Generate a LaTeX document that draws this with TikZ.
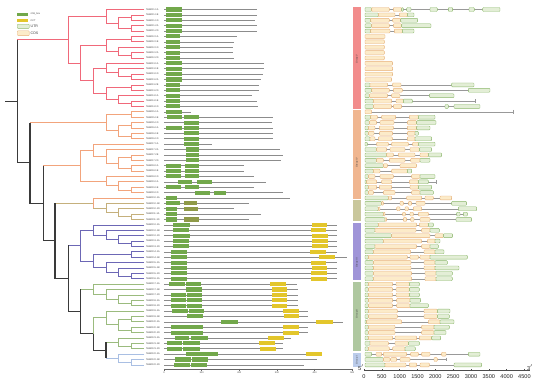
\documentclass[tikz,border=0pt]{standalone}
\usepackage{fontspec}
\setmainfont{Liberation Sans}
\definecolor{cR}{HTML}{F0697A}
\definecolor{cO}{HTML}{F2A47C}
\definecolor{cT}{HTML}{C5B07C}
\definecolor{cP}{HTML}{6C67B5}
\definecolor{cG}{HTML}{9BBB7E}
\definecolor{cB}{HTML}{A9BFE3}
\definecolor{cK}{HTML}{3A3A3A}
\definecolor{bR}{HTML}{F28C8C}
\definecolor{bO}{HTML}{F0B690}
\definecolor{bT}{HTML}{C9C79C}
\definecolor{bP}{HTML}{A095D8}
\definecolor{bG}{HTML}{AFC8A0}
\definecolor{bB}{HTML}{BBCCEB}
\definecolor{dG}{HTML}{72A84B}
\definecolor{dY}{HTML}{E3C62B}
\definecolor{dO}{HTML}{8F9A48}
\definecolor{uF}{HTML}{E3EED6}
\definecolor{uD}{HTML}{8CB86B}
\definecolor{kF}{HTML}{FCEBC9}
\definecolor{kD}{HTML}{E8B27A}
\tikzset{
  tR/.style={cR,line width=0.75pt},
  tO/.style={cO,line width=0.75pt},
  tT/.style={cT,line width=0.75pt},
  tP/.style={cP,line width=0.75pt},
  tG/.style={cG,line width=0.75pt},
  tB/.style={cB,line width=0.75pt},
  tK/.style={cK,line width=1.1pt},
  lbl/.style={anchor=west,inner sep=0pt,text=black!70,font=\fontsize{2.4}{2.8}\selectfont},
  dline/.style={black!45,line width=0.55pt},
  bxg/.style={fill=dG},
  bxy/.style={fill=dY},
  bxo/.style={fill=dO},
  gline/.style={black!40,line width=0.45pt},
  gu/.style={fill=uF,draw=uD,line width=0.35pt,rounded corners=0.8pt},
  gc/.style={fill=kF,draw=kD,line width=0.35pt,rounded corners=0.8pt},
  grp/.style={rotate=90,inner sep=0pt,text=black!75,font=\fontsize{2.4}{2.8}\selectfont},
  axl/.style={inner sep=0pt,text=black!75,font=\fontsize{2.4}{2.8}\selectfont},
  gxl/.style={inner sep=0pt,text=black!85,font=\fontsize{5.6}{6.5}\selectfont},
}
\newcommand\br[6]{\draw[#1] (#4,#3) -- (#2,#3) -- (#2,#5) -- (#6,#5);}
\newcommand\dm[3]{\draw[dline] (72,#1) -- (#2,#1);
  \foreach \t/\a/\b in {#3} {\fill[\t] (\a,#1-0.38) rectangle (\b,#1+0.38);}}
\newcommand\gn[3]{\draw[gline] (45,#1) -- (#2,#1);
  \foreach \t/\a/\b in {#3} {\filldraw[\t] (\a,#1-0.36) rectangle (\b,#1+0.36);}}
\begin{document}
\begin{tikzpicture}[x=1pt,y=-1pt]
\useasboundingbox (0,0) rectangle (550,385);
\fill[white] (0,0) rectangle (550,385);

% legend
\fill[dG] (17.3,12.7) rectangle (28.3,15.9);
\node[axl,anchor=west] (lg1) at (30.5,14.3) {zf-B\_box};
\fill[dY] (17.3,19.2) rectangle (28.3,21.8);
\node[axl,anchor=west] (lg2) at (30.5,20.5) {CCT};
\filldraw[gu] (17.3,24.2) rectangle (29.3,28.4);
\node[axl,anchor=west,font=\fontsize{3.6}{4}\selectfont] (lg3) at (30.5,26.3) {UTR};
\filldraw[gc] (17.3,30.8) rectangle (29.3,35.6);
\node[axl,anchor=west,font=\fontsize{3.6}{4}\selectfont] (lg4) at (30.5,33.2) {CDS};

% ---------------- tree ----------------
\begin{scope}[x=1pt,y=-5.385pt,shift={(0pt,-9.5pt)}]
% red
\br{tR}{131.7}{1}{144}{2}{144}
\br{tR}{131.7}{3}{144}{4}{144}
\br{tR}{118.3}{1.5}{131.7}{3.5}{131.7}
\br{tR}{106}{0}{144}{2.5}{118.3}
\br{tR}{131.7}{5}{144}{6}{144}
\br{tR}{131.7}{8}{144}{9}{144}
\br{tR}{118.3}{7}{144}{8.5}{131.7}
\br{tR}{106}{5.5}{131.7}{7.75}{118.3}
\br{tR}{131.7}{12}{144}{13}{144}
\br{tR}{118.3}{11}{144}{12.5}{131.7}
\br{tR}{106}{10}{144}{11.75}{118.3}
\br{tR}{131.7}{14}{144}{15}{144}
\br{tR}{131.7}{17}{144}{18}{144}
\br{tR}{118.3}{16}{144}{17.5}{131.7}
\br{tR}{106}{14.5}{131.7}{16.75}{118.3}
\br{tR}{93.3}{10.875}{106}{15.625}{106}
\br{tR}{80.7}{6.625}{106}{13.25}{93.3}
\br{tR}{68.3}{1.25}{106}{9.9375}{80.7}
% orange
\br{tO}{131.7}{19}{144}{20}{144}
\br{tO}{131.7}{21}{144}{22}{144}
\br{tO}{131.7}{23}{144}{24}{144}
\br{tO}{118.3}{21.5}{131.7}{23.5}{131.7}
\br{tO}{106}{19.5}{131.7}{22.5}{118.3}
\br{tO}{131.7}{27}{144}{28}{144}
\br{tO}{131.7}{29}{144}{30}{144}
\br{tO}{118.3}{27.5}{131.7}{29.5}{131.7}
\br{tO}{106}{26}{144}{28.5}{118.3}
\br{tO}{93.3}{25}{144}{27.25}{106}
\br{tO}{131.7}{33}{144}{34}{144}
\br{tO}{118.3}{32}{144}{33.5}{131.7}
\br{tO}{106}{31}{144}{32.75}{118.3}
\br{tO}{80.7}{26.125}{93.3}{31.875}{106}
% tan
\br{tT}{131.7}{38}{144}{39}{144}
\br{tT}{118.3}{37}{144}{38.5}{131.7}
\br{tT}{106}{36}{144}{37.75}{118.3}
\br{tO}{93.3}{35}{144}{36.875}{93.3}
\draw[tT] (93.3,36.875) -- (106,36.875);
% purple
\br{tP}{131.7}{43}{144}{44}{144}
\br{tP}{118.3}{42}{144}{43.5}{131.7}
\br{tP}{106}{41}{144}{42.75}{118.3}
\br{tP}{93.3}{40}{144}{41.875}{106}
\br{tP}{131.7}{45}{144}{46}{144}
\br{tP}{131.7}{49}{144}{50}{144}
\br{tP}{118.3}{48}{144}{49.5}{131.7}
\br{tP}{106}{47}{144}{48.75}{118.3}
\br{tP}{93.3}{45.5}{131.7}{47.875}{106}
\br{tP}{80.7}{40.9375}{93.3}{46.6875}{93.3}
% green
\br{tG}{131.7}{54}{144}{55}{144}
\br{tG}{118.3}{53}{144}{54.5}{131.7}
\br{tG}{106}{52}{144}{53.75}{118.3}
\br{tG}{93.3}{51}{144}{52.875}{106}
\br{tG}{131.7}{57}{144}{58}{144}
\br{tG}{131.7}{59}{144}{60}{144}
\br{tG}{118.3}{57.5}{131.7}{59.5}{131.7}
\br{tG}{106}{56}{144}{58.5}{118.3}
\br{tG}{131.7}{62}{144}{63}{144}
\br{tG}{118.3}{61}{144}{62.5}{131.7}
% blue
\br{tB}{131.7}{65}{144}{66}{144}
\br{tB}{118.3}{64}{144}{65.5}{131.7}
% backbone
\draw[tG] (106,61.75) -- (118.3,61.75);
\draw[tB] (106,64.75) -- (118.3,64.75);
\draw[tK] (106,61.75) -- (106,64.75);
\draw[tG] (106,57.25) -- (93.3,57.25) -- (93.3,60.25);
\draw[tK] (93.3,60.25) -- (93.3,63.25) -- (106,63.25);
\draw[tG] (80.7,51.9375) -- (93.3,51.9375);
\draw[tK] (80.7,51.9375) -- (80.7,60.25) -- (93.3,60.25);
\draw[tP] (68.3,43.8125) -- (80.7,43.8125);
\draw[tK] (68.3,43.8125) -- (68.3,56.09) -- (80.7,56.09);
\draw[tT] (55,35.9375) -- (93.3,35.9375);
\draw[tK] (55,35.9375) -- (55,49.95) -- (68.3,49.95);
\draw[tO] (43.3,29) -- (80.7,29);
\draw[tK] (43.3,29) -- (43.3,42.94) -- (55,42.94);
\draw[tO] (30,21) -- (106,21);
\draw[tK] (30,21) -- (30,35.97) -- (43.3,35.97);
\draw[tR] (17.3,5.59) -- (68.3,5.59);
\draw[tK] (17.3,5.59) -- (17.3,28.49) -- (30,28.49);
\draw[tK] (5,17.04) -- (17.3,17.04);

% leaf labels
\foreach \nm [count=\i from 0] in {
TaBBX1-1A,TaBBX1-1B,TaBBX1-1D,TaBBX1-2A,TaBBX1-2D,
TaBBX2-1A,TaBBX2-1B,TaBBX2-1D,TaBBX2-2A,TaBBX2-2D,
TaBBX3-1A,TaBBX3-1B,TaBBX3-1D,TaBBX3-2A,TaBBX3-2B,
TaBBX3-2D,TaBBX4-1A,TaBBX4-1B,TaBBX4-1D,
TaBBX5-1A,TaBBX5-1B,TaBBX5-1D,TaBBX6-1A,TaBBX6-1B,TaBBX6-1D,
TaBBX7-1A,TaBBX7-2A,TaBBX7-2B,TaBBX7-2D,TaBBX8-1A,TaBBX8-1B,
TaBBX8-1D,TaBBX9-1A,TaBBX9-1B,TaBBX9-1D,
TaBBX10-1A,TaBBX10-1B,TaBBX10-1D,TaBBX11-1A,TaBBX11-1D,
TaBBX12-1A,TaBBX12-1B,TaBBX12-1D,TaBBX13-1A,TaBBX13-1D,
TaBBX14-1A,TaBBX14-1B,TaBBX15-1A,TaBBX15-1B,TaBBX15-1D,TaBBX16-1A,
TaBBX17-1A,TaBBX17-1B,TaBBX17-1D,TaBBX18-1A,TaBBX18-1D,
TaBBX19-1A,TaBBX19-1B,TaBBX20-1A,TaBBX20-1B,TaBBX20-1D,
TaBBX21-1A,TaBBX21-1B,TaBBX21-1D,
TaBBX22-1A,TaBBX22-1B,TaBBX22-1D}
  {\node[lbl] (lf\i) at (145.8,\i) {\nm};}
\end{scope}

% ---------------- protein domains ----------------
\begin{scope}[x=0.33333pt,y=-5.385pt,shift={(140pt,-9.5pt)}]
\dm{0}{352}{bxg/77/125}
\dm{1}{350}{bxg/77/125}
\dm{2}{345}{bxg/77/125}
\dm{3}{352}{bxg/77/125}
\dm{4}{352}{bxg/77/125}
\dm{5}{290}{bxg/77/120}
\dm{6}{282}{bxg/77/120}
\dm{7}{280}{bxg/77/120}
\dm{8}{280}{bxg/77/120}
\dm{9}{282}{bxg/77/120}
\dm{10}{372}{bxg/77/125}
\dm{11}{372}{bxg/77/125}
\dm{12}{368}{bxg/77/125}
\dm{13}{362}{bxg/77/125}
\dm{14}{358}{bxg/77/120}
\dm{15}{358}{bxg/77/120}
\dm{16}{337}{bxg/77/120}
\dm{17}{350}{bxg/77/120}
\dm{18}{355}{bxg/77/120}
\dm{19}{153}{bxg/77/127}
\dm{20}{400}{bxg/80/127,bxg/133/178}
\dm{21}{395}{bxg/133/178}
\dm{22}{398}{bxg/78/125,bxg/133/178}
\dm{23}{398}{bxg/133/178}
\dm{24}{398}{bxg/133/178}
\dm{25}{215}{bxg/131/176}
\dm{26}{420}{bxg/138/178}
\dm{27}{428}{bxg/138/178}
\dm{28}{422}{bxg/138/178}
\dm{29}{313}{bxg/78/122,bxg/135/178}
\dm{30}{313}{bxg/78/122,bxg/135/178}
\dm{31}{343}{bxg/78/122,bxg/135/178}
\dm{32}{378}{bxg/114/157,bxg/170/215}
\dm{33}{343}{bxg/78/122,bxg/135/178}
\dm{34}{430}{bxg/165/210,bxg/222/258}
\dm{35}{450}{bxg/78/112}
\dm{36}{328}{bxg/78/120,bxo/133/170}
\dm{37}{283}{bxg/78/112,bxo/133/175}
\dm{38}{362}{bxg/78/110}
\dm{39}{328}{bxg/78/112,bxo/133/177}
\dm{40}{590}{bxg/100/150,bxy/515/562}
\dm{41}{590}{bxg/98/148,bxy/512/558}
\dm{42}{590}{bxg/100/150,bxy/515/565}
\dm{43}{590}{bxg/100/148,bxy/517/565}
\dm{44}{590}{bxg/100/148,bxy/515/565}
\dm{45}{590}{bxg/93/140,bxy/510/558}
\dm{46}{622}{bxg/93/140,bxy/538/585}
\dm{47}{592}{bxg/93/140,bxy/512/558}
\dm{48}{592}{bxg/93/140,bxy/515/560}
\dm{49}{592}{bxg/93/140,bxy/513/560}
\dm{50}{592}{bxg/93/140,bxy/513/560}
\dm{51}{472}{bxg/88/135,bxg/137/183,bxy/390/438}
\dm{52}{475}{bxg/138/185,bxy/395/440}
\dm{53}{475}{bxg/92/138,bxg/140/187,bxy/395/440}
\dm{54}{475}{bxg/92/138,bxg/140/187,bxy/395/440}
\dm{55}{475}{bxg/92/138,bxg/140/187,bxy/395/440}
\dm{56}{505}{bxg/97/145,bxg/147/193,bxy/430/477}
\dm{57}{505}{bxg/140/190,bxy/432/478}
\dm{58}{608}{bxg/243/293,bxy/528/578}
\dm{59}{505}{bxg/92/140,bxg/142/190,bxy/430/477}
\dm{60}{505}{bxg/92/140,bxg/142/190,bxy/430/477}
\dm{61}{452}{bxg/105/148,bxg/152/203,bxy/385/432}
\dm{62}{430}{bxg/82/125,bxg/130/180,bxy/358/405}
\dm{63}{430}{bxg/82/125,bxg/130/180,bxy/360/408}
\dm{64}{545}{bxg/137/185,bxg/187/233,bxy/498/545}
\dm{65}{532}{bxg/105/152,bxg/155/203}
\dm{66}{492}{bxg/102/150,bxg/152/200}
\end{scope}

% protein axis
\draw[black!60,line width=0.4pt] (164,369) -- (352.3,369);
\foreach \v [count=\k from 0] in {0,100,200,300,400,500}
  {\draw[black!60,line width=0.4pt] ({164+37.66*\k},369) -- ({164+37.66*\k},370.6);
   \node[axl] (pa\k) at ({164+37.66*\k},372.6) {\v};}

% ---------------- group bars ----------------
\fill[bR] (353,7.3) rectangle (361,108.6);
\fill[bO] (353,110.5) rectangle (361,198.9);
\fill[bT] (353,200.3) rectangle (361,221.3);
\fill[bP] (353,222.9) rectangle (361,280.5);
\fill[bG] (353,282.2) rectangle (361,350.8);
\fill[bB] (353,352.6) rectangle (361,367);
\node[grp] (g5) at (357,59) {Group V};
\node[grp] (g4) at (357,163) {Group IV};
\node[grp] (g3) at (357,263) {Group III};
\node[grp] (g2) at (357,314) {Group II};
\node[grp] (g1) at (357,360) {Group I};

% ---------------- gene structures ----------------
\begin{scope}[x=0.33333pt,y=-5.385pt,shift={(350pt,-9.5pt)}]
\gn{0}{450}{gu/45/65,gc/65/118,gc/130/155,gu/155/160,gu/170/183,gu/240/262,gu/295/308,gu/357/373,gu/398/450}
\gn{1}{192}{gu/45/85,gc/85/135,gc/148/172,gu/172/192}
\gn{2}{203}{gu/45/62,gc/62/118,gc/128/152,gu/152/203}
\gn{3}{243}{gu/45/65,gc/65/118,gc/130/155,gu/155/243}
\gn{4}{192}{gu/45/62,gc/62/120,gc/133/157,gu/157/192}
\gn{5}{105}{gc/45/105}
\gn{6}{103}{gc/45/103}
\gn{7}{103}{gc/45/103}
\gn{8}{103}{gc/45/103}
\gn{9}{103}{gc/45/103}
\gn{10}{128}{gc/45/128}
\gn{11}{128}{gc/45/128}
\gn{12}{128}{gc/45/128}
\gn{13}{125}{gc/45/125}
\gn{14}{372}{gu/45/60,gc/60/113,gc/128/153,gu/305/372}
\gn{15}{420}{gu/45/65,gc/65/118,gc/130/157,gu/355/420}
\gn{16}{312}{gu/45/58,gc/58/113,gc/125/150,gu/238/312}
\gn{17}{377}{gu/45/70,gc/70/125,gc/138/160,gu/160/187}
\gn{18}{390}{gu/45/70,gc/70/125,gc/130/155,gu/285/295,gu/312/390}
\gn{19}{490}{gc/45/65}
\gn{20}{255}{gu/45/62,gc/62/82,gc/95/137,gc/178/205,gu/205/255}
\gn{21}{258}{gu/45/58,gc/58/80,gc/90/132,gc/172/200,gu/200/258}
\gn{22}{240}{gu/45/55,gc/55/75,gc/88/130,gc/172/200,gu/200/240}
\gn{23}{205}{gu/45/55,gc/55/72,gc/88/128,gc/172/195,gu/195/205}
\gn{24}{245}{gu/45/60,gc/60/75,gc/85/127,gc/172/195,gu/195/245}
\gn{25}{255}{gu/45/52,gc/80/115,gc/125/175,gc/188/205,gu/205/255}
\gn{26}{245}{gu/45/80,gc/80/110,gc/120/165,gc/180/208,gu/208/245}
\gn{27}{275}{gu/45/110,gc/110/130,gc/145/195,gc/210/235,gu/235/275}
\gn{28}{240}{gu/45/80,gc/80/100,gc/118/165,gc/182/210,gu/210/240}
\gn{29}{200}{gu/45/100,gc/100/112,gc/150/200}
\gn{30}{185}{gu/45/70,gc/70/90,gc/125/172,gu/172/185}
\gn{31}{255}{gu/45/55,gc/55/75,gc/90/130,gc/185/210,gu/210/255}
\gn{32}{260}{gu/45/50,gc/50/80,gc/95/125,gc/178/205,gu/205/235}
\gn{33}{245}{gu/45/55,gc/55/80,gc/88/125,gc/180/205,gu/205/245}
\gn{34}{250}{gu/45/55,gc/55/70,gc/100/135,gc/185/210,gu/210/250}
\gn{35}{305}{gu/45/115,gc/115/125,gc/170/215,gc/225/250,gc/270/305}
\gn{36}{350}{gu/45/95,gc/95/100,gc/150/160,gc/175/185,gc/198/225,gu/305/350}
\gn{37}{380}{gu/45/85,gc/85/90,gc/140/150,gc/165/175,gc/190/215,gu/325/380}
\gn{38}{352}{gu/45/100,gc/100/105,gc/158/166,gc/180/190,gc/205/235,gu/320/330,gu/340/352}
\gn{39}{365}{gu/45/105,gc/105/110,gc/160/170,gc/182/192,gc/210/240,gu/318/365}
\gn{40}{250}{gu/45/85,gc/85/200,gc/208/235,gu/235/250}
\gn{41}{268}{gu/45/75,gc/75/198,gc/215/240,gu/240/268}
\gn{42}{308}{gu/45/125,gc/125/240,gc/255/280,gu/280/308}
\gn{43}{270}{gu/45/100,gc/100/215,gc/232/255,gu/255/270}
\gn{44}{265}{gu/45/75,gc/75/200,gc/215/240,gu/240/265}
\gn{45}{282}{gu/45/70,gc/70/182,gc/222/255,gu/255/282}
\gn{46}{352}{gu/45/55,gc/55/172,gc/180/205,gc/210/240,gu/240/352}
\gn{47}{292}{gu/45/70,gc/70/183,gc/222/255,gu/255/292}
\gn{48}{327}{gu/45/70,gc/70/183,gc/222/255,gu/255/327}
\gn{49}{307}{gu/45/70,gc/70/185,gc/225/258,gu/258/307}
\gn{50}{307}{gu/45/70,gc/70/185,gc/225/258,gu/258/307}
\gn{51}{208}{gu/45/55,gc/55/128,gc/138/178,gu/178/208}
\gn{52}{208}{gu/45/55,gc/55/128,gc/138/178,gu/178/208}
\gn{53}{208}{gu/45/55,gc/55/128,gc/138/178,gu/178/208}
\gn{54}{212}{gu/45/55,gc/55/128,gc/140/180,gu/180/212}
\gn{55}{235}{gu/45/55,gc/55/128,gc/140/180,gu/180/235}
\gn{56}{300}{gu/45/55,gc/55/142,gc/222/262,gu/262/300}
\gn{57}{298}{gu/45/55,gc/55/142,gc/222/262,gu/262/298}
\gn{58}{312}{gu/45/50,gc/50/155,gc/235/270,gu/270/312}
\gn{59}{298}{gu/45/55,gc/55/135,gc/215/252,gu/252/298}
\gn{60}{288}{gu/45/55,gc/55/135,gc/215/252,gu/252/288}
\gn{61}{272}{gu/45/55,gc/55/128,gc/135/200,gc/208/245,gu/245/272}
\gn{62}{208}{gu/45/60,gc/60/115,gc/135/175,gu/175/208}
\gn{63}{196}{gu/45/55,gc/55/118,gc/128/165,gu/165/196}
\gn{64}{390}{gu/45/65,gc/78/95,gc/100/170,gc/182/205,gc/215/240,gc/275/288,gu/355/390}
\gn{65}{290}{gu/45/100,gc/100/120,gc/122/140,gc/150/180,gc/252/262}
\gn{66}{395}{gu/45/105,gc/105/168,gc/178/200,gc/210/238,gu/312/395}
\foreach \r/\e in {17/377,19/490,32/260,65/290}
  {\draw[gline] (\e,\r-0.35) -- (\e,\r+0.35);}
\end{scope}

% gene axis
\draw[black!70,line width=0.45pt] (364,370.5) -- (530,370.5);
\foreach \v [count=\k from 0] in {0,500,1000,1500,2000,2500,3000,3500,4000,4500}
  {\draw[black!70,line width=0.45pt] ({364+17.83*\k},370.5) -- ({364+17.83*\k},369.2);
   \node[gxl] (ga\k) at ({364+17.83*\k},377) {\v};}
\node[gxl] (five) at (361,367.4) {5$'$};
\node[gxl] (three) at (530,367.4) {3$'$};
\end{tikzpicture}
\end{document}
